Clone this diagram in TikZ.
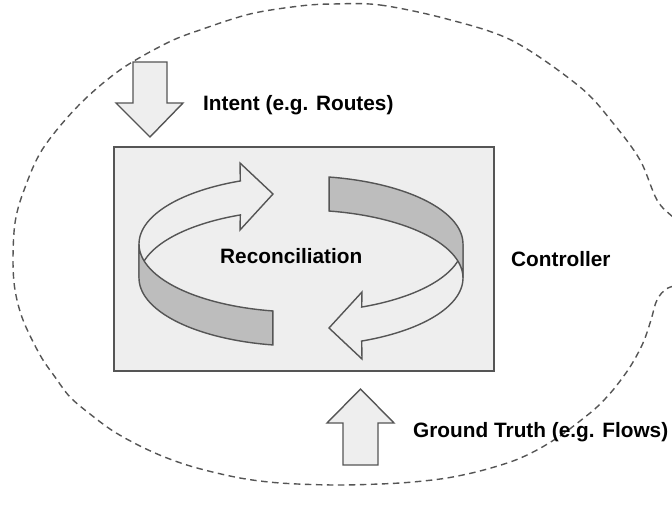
\documentclass[tikz,border=0pt]{standalone}
\usepackage{fontspec}
\setmainfont{Liberation Sans}
\definecolor{linegray}{HTML}{555555}
\definecolor{boxfill}{HTML}{EEEEEE}
\definecolor{bandfill}{HTML}{BDBDBD}
\tikzset{
  outline/.style={draw=linegray, line width=1.4pt, line join=miter},
  lbl/.style={font=\fontsize{20.8}{24}\selectfont\bfseries, inner sep=0pt, anchor=base west},
  dashline/.style={draw=linegray, line width=1.4pt, dash pattern=on 6.5pt off 4.5pt},
}
\begin{document}
\begin{tikzpicture}[x=1pt,y=-1pt]
\useasboundingbox (0,0) rectangle (672,510);
\clip (0,0) rectangle (672,510);
% controller boundary
\draw[dashline] plot[smooth cycle, tension=0.55] coordinates {
 (333,4) (380,5) (447,19) (513,41) (580,87) (613,123) (640,160) (657,200)
 (674,218) (700,240) (706,262) (692,281) (668,288) (657,300) (651,320)
 (643,343) (630,367) (613,390) (597,407) (580,421) (560,436) (537,450)
 (513,461) (480,471) (447,478) (413,482) (380,484) (333,485) (280,483)
 (240,478) (197,468) (167,458) (140,446) (113,431) (90,414) (70,397)
 (55,377) (40,355) (23,320) (15,290) (13,260) (15,223) (23,193) (42,150)
 (78,106) (120,70) (167,43) (200,30) (250,14) (300,6)};
% intent arrow
\path[outline, fill=boxfill] (133,62) -- (167,62) -- (167,103) -- (183,103)
  -- (150,137) -- (116,103) -- (133,103) -- cycle;
% ground truth arrow
\path[outline, fill=boxfill] (343,465) -- (378,465) -- (378,423) -- (394,423)
  -- (360.5,389) -- (327,423) -- (343,423) -- cycle;
% controller box
\node[draw=linegray, line width=1.6pt, fill=boxfill, minimum width=380pt,
  minimum height=224pt, inner sep=0pt, anchor=north west] (box) at (113,146) {};
% reconciliation ribbons
\foreach \rot in {0,180}{
\begin{scope}[rotate around={\rot:(301,261)}]
  \path[outline, fill=boxfill]
    plot[domain=180:112, samples=40, variable=\t] ({301+162*cos(\t)},{244-68*sin(\t)})
    -- (240,163) -- (273,194) -- (240,230)
    -- plot[domain=112:180, samples=40, variable=\t] ({301+162*cos(\t)},{278-68*sin(\t)})
    -- cycle;
  \path[outline, fill=bandfill]
    plot[domain=180:260, samples=40, variable=\t] ({301+162*cos(\t)},{244-68*sin(\t)})
    -- plot[domain=260:180, samples=40, variable=\t] ({301+162*cos(\t)},{278-68*sin(\t)})
    -- cycle;
\end{scope}}
% labels
\node[lbl] (intent) at (203,110.5) {Intent (e.g. Routes)};
\node[lbl] (recon) at (220,264) {Reconciliation};
\node[lbl] (ctrl) at (511,267) {Controller};
\node[lbl] (truth) at (413,437) {Ground Truth (e.g. Flows)};
\end{tikzpicture}
\end{document}
